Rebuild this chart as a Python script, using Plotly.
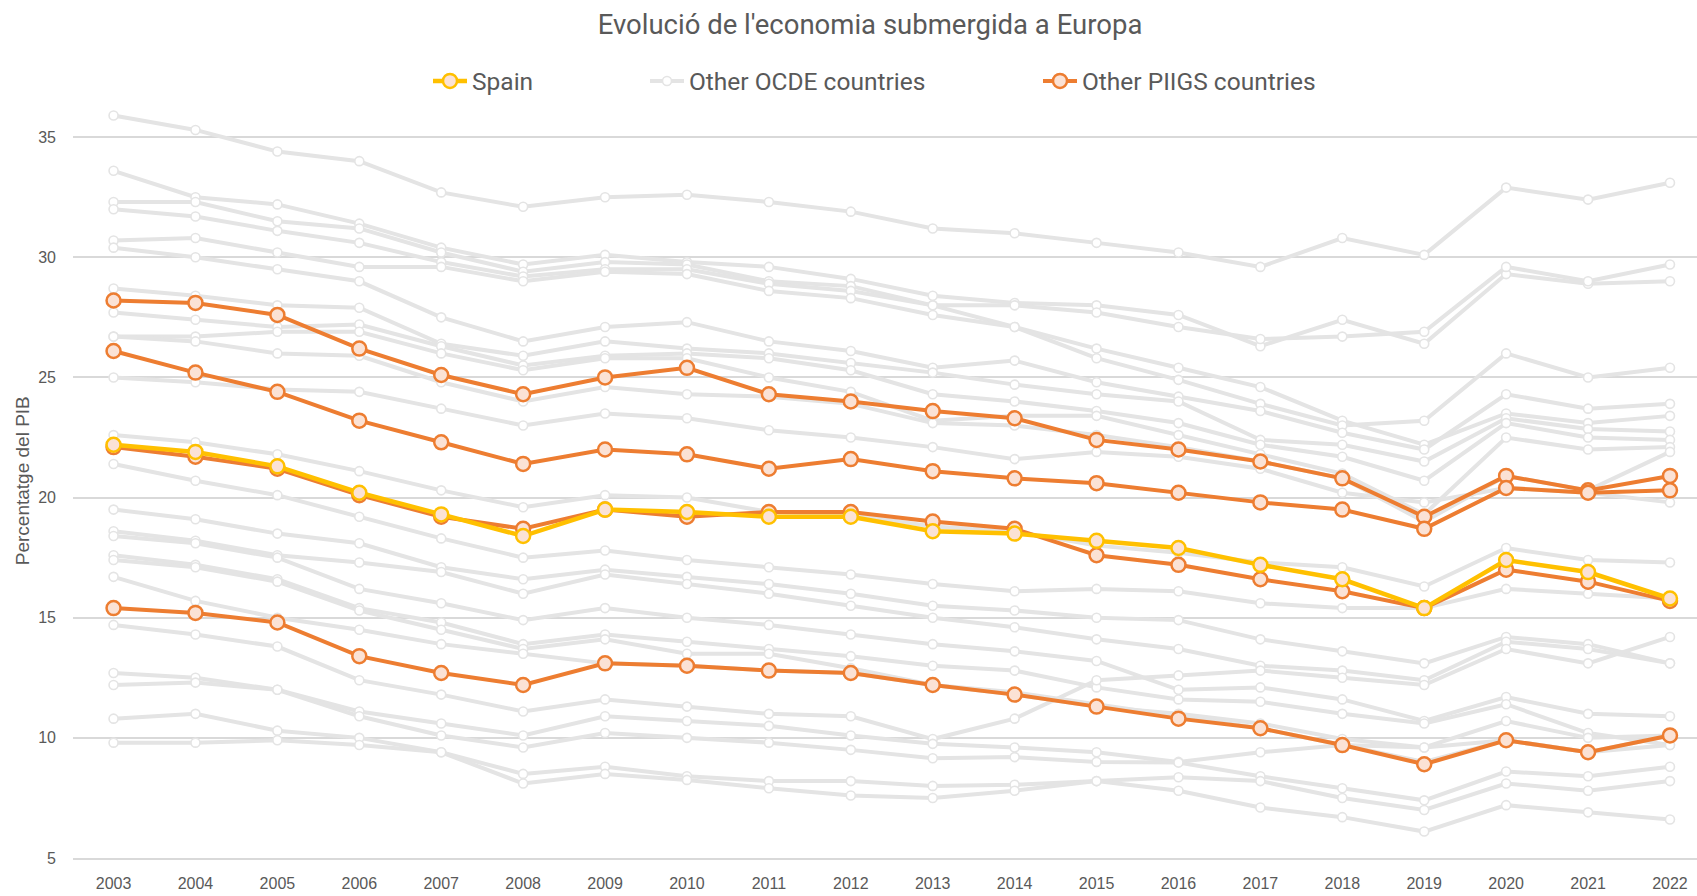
import plotly.graph_objects as go

years = list(range(2003, 2023))
tick_labels = [str(y) for y in years]
y_ticks = [5, 10, 15, 20, 25, 30, 35]

# Highlighted series
spain = [22.2, 21.9, 21.3, 20.2, 19.3, 18.4, 19.5, 19.4, 19.2, 19.2, 18.6, 18.5, 18.2, 17.9, 17.2, 16.6, 15.4, 17.4, 16.9, 15.8]
greece = [28.2, 28.1, 27.6, 26.2, 25.1, 24.3, 25.0, 25.4, 24.3, 24.0, 23.6, 23.3, 22.4, 22.0, 21.5, 20.8, 19.2, 20.9, 20.3, 20.9]
italy = [26.1, 25.2, 24.4, 23.2, 22.3, 21.4, 22.0, 21.8, 21.2, 21.6, 21.1, 20.8, 20.6, 20.2, 19.8, 19.5, 18.7, 20.4, 20.2, 20.3]
portugal = [22.1, 21.7, 21.2, 20.1, 19.2, 18.7, 19.5, 19.2, 19.4, 19.4, 19.0, 18.7, 17.6, 17.2, 16.6, 16.1, 15.4, 17.0, 16.5, 15.7]
ireland = [15.4, 15.2, 14.8, 13.4, 12.7, 12.2, 13.1, 13.0, 12.8, 12.7, 12.2, 11.8, 11.3, 10.8, 10.4, 9.7, 8.9, 9.9, 9.4, 10.1]

# Other OCDE countries (grey background lines)
oth_01 = [35.9, 35.3, 34.4, 34.0, 32.7, 32.1, 32.5, 32.6, 32.3, 31.9, 31.2, 31.0, 30.6, 30.2, 29.6, 30.8, 30.1, 32.9, 32.4, 33.1]
oth_02 = [33.6, 32.5, 32.2, 31.4, 30.4, 29.7, 30.1, 29.8, 29.6, 29.1, 28.4, 28.1, 28.0, 27.6, 26.3, 27.4, 26.4, 29.3, 28.9, 29.0]
oth_03 = [32.3, 32.3, 31.5, 31.2, 30.2, 29.4, 29.8, 29.7, 29.0, 28.8, 28.0, 28.0, 27.7, 27.1, 26.6, 26.7, 26.9, 29.6, 29.0, 29.7]
oth_04 = [32.0, 31.7, 31.1, 30.6, 29.8, 29.2, 29.5, 29.5, 28.9, 28.6, 28.0, 27.1, 26.2, 25.4, 24.6, 23.2, 22.2, 23.5, 23.1, 23.4]
oth_05 = [30.7, 30.8, 30.2, 29.6, 29.6, 29.0, 29.4, 29.3, 28.6, 28.3, 27.6, 27.1, 25.8, 24.9, 23.9, 23.0, 23.2, 26.0, 25.0, 25.4]
oth_06 = [30.4, 30.0, 29.5, 29.0, 27.5, 26.5, 27.1, 27.3, 26.5, 26.1, 25.4, 25.7, 24.8, 24.2, 23.6, 22.7, 22.0, 24.3, 23.7, 23.9]
oth_07 = [28.7, 28.4, 28.0, 27.9, 26.4, 25.9, 26.5, 26.2, 26.0, 25.6, 25.2, 24.7, 24.3, 24.0, 22.4, 22.2, 21.5, 23.3, 22.85, 22.75]
oth_08 = [27.7, 27.4, 27.1, 27.2, 26.3, 25.5, 25.9, 26.0, 25.8, 25.3, 24.3, 24.0, 23.6, 23.1, 22.2, 21.7, 20.7, 23.1, 22.5, 22.4]
oth_09 = [26.7, 26.7, 26.9, 26.9, 26.0, 25.3, 25.8, 25.8, 25.0, 24.4, 23.2, 23.4, 23.4, 22.6, 21.8, 21.0, 19.3, 22.5, 22.0, 22.1]
oth_10 = [26.7, 26.5, 26.0, 25.9, 24.8, 24.0, 24.6, 24.3, 24.2, 23.9, 23.1, 23.0, 22.6, 22.1, 21.5, 20.8, 19.0, 20.9, 20.3, 21.9]
oth_11 = [25.0, 24.8, 24.5, 24.4, 23.7, 23.0, 23.5, 23.3, 22.8, 22.5, 22.1, 21.6, 21.9, 21.7, 21.2, 20.2, 19.8, 20.4, 20.2, 19.8]
oth_12 = [22.6, 22.3, 21.8, 21.1, 20.3, 19.6, 20.1, 20.0, 19.4, 19.3, 18.8, 18.6, 18.0, 17.7, 17.3, 17.1, 16.3, 17.9, 17.4, 17.3]
oth_13 = [21.4, 20.7, 20.1, 19.2, 18.3, 17.5, 17.8, 17.4, 17.1, 16.8, 16.4, 16.1, 16.2, 16.1, 15.6, 15.4, 15.4, 16.2, 16.0, 15.8]
oth_14 = [19.5, 19.1, 18.5, 18.1, 17.1, 16.6, 17.0, 16.7, 16.4, 16.0, 15.5, 15.3, 15.0, 14.9, 14.1, 13.6, 13.1, 14.2, 13.9, 13.1]
oth_15 = [18.6, 18.2, 17.6, 17.3, 16.9, 16.0, 16.8, 16.4, 16.0, 15.5, 15.0, 14.6, 14.1, 13.7, 13.0, 12.8, 12.4, 14.0, 13.7, 13.1]
oth_16 = [18.4, 18.1, 17.5, 16.2, 15.6, 14.9, 15.4, 15.0, 14.7, 14.3, 13.9, 13.6, 13.2, 12.0, 12.1, 11.6, 10.7, 11.7, 11.0, 10.9]
oth_17 = [17.6, 17.2, 16.6, 15.4, 14.8, 13.9, 14.3, 14.0, 13.7, 13.4, 13.0, 12.8, 12.1, 11.6, 11.5, 11.0, 10.6, 11.4, 10.2, 9.7]
oth_18 = [17.4, 17.1, 16.5, 15.3, 14.5, 13.7, 14.1, 13.5, 13.5, 12.9, 12.2, 11.8, 11.3, 11.0, 10.6, 9.95, 9.6, 10.7, 10.0, 10.1]
oth_19 = [16.7, 15.7, 15.0, 14.5, 13.9, 13.5, 13.1, 13.0, 12.8, 12.7, 12.2, 11.9, 11.4, 10.9, 10.4, 9.7, 9.0, 9.9, 9.4, 10.1]
oth_20 = [14.7, 14.3, 13.8, 12.4, 11.8, 11.1, 11.6, 11.3, 11.0, 10.9, 9.95, 10.8, 12.4, 12.6, 12.8, 12.5, 12.2, 13.7, 13.1, 14.2]
oth_21 = [12.7, 12.5, 12.0, 11.1, 10.6, 10.1, 10.9, 10.7, 10.5, 10.1, 9.75, 9.6, 9.4, 9.0, 9.4, 9.7, 9.6, 9.9, 9.4, 9.7]
oth_22 = [12.2, 12.3, 12.0, 10.9, 10.1, 9.6, 10.2, 10.0, 9.8, 9.5, 9.15, 9.2, 9.0, 8.97, 8.4, 7.9, 7.4, 8.6, 8.4, 8.8]
oth_23 = [10.8, 11.0, 10.3, 10.0, 9.4, 8.5, 8.8, 8.4, 8.2, 8.2, 8.0, 8.05, 8.2, 8.36, 8.2, 7.5, 7.0, 8.1, 7.8, 8.2]
oth_24 = [9.8, 9.8, 9.9, 9.7, 9.4, 8.1, 8.5, 8.25, 7.9, 7.6, 7.5, 7.8, 8.2, 7.8, 7.1, 6.7, 6.1, 7.2, 6.9, 6.6]

others = [oth_01, oth_02, oth_03, oth_04, oth_05, oth_06, oth_07, oth_08, oth_09, oth_10, oth_11, oth_12,
          oth_13, oth_14, oth_15, oth_16, oth_17, oth_18, oth_19, oth_20, oth_21, oth_22, oth_23, oth_24]
piigs = [greece, italy, portugal, ireland]

GREY = "#E4E4E4"
ORANGE = "#ED7D31"
YELLOW = "#FFC000"
PEACH = "#FBE2D5"
TEXT = "#595959"
NARROW = "Roboto, Liberation Sans, sans-serif"
REG = "Liberation Sans, Arial, sans-serif"

fig = go.Figure()

for i, s in enumerate(others):
    fig.add_trace(go.Scatter(
        x=years, y=s, mode="lines+markers", name="Other OCDE countries",
        legend="legend2", legendgroup="ocde", showlegend=(i == 0),
        line=dict(color=GREY, width=4),
        marker=dict(symbol="circle", size=9, color="white", line=dict(color=GREY, width=1.6)),
        hoverinfo="skip",
    ))

for i, s in enumerate(piigs):
    fig.add_trace(go.Scatter(
        x=years, y=s, mode="lines+markers", name="Other PIIGS countries",
        legend="legend3", legendgroup="piigs", showlegend=(i == 0),
        line=dict(color=ORANGE, width=4),
        marker=dict(symbol="circle", size=14, color=PEACH, line=dict(color=ORANGE, width=2.5)),
    ))

fig.add_trace(go.Scatter(
    x=years, y=spain, mode="lines+markers", name="Spain", legend="legend",
    line=dict(color=YELLOW, width=4.5),
    marker=dict(symbol="circle", size=14, color=PEACH, line=dict(color=YELLOW, width=2.5)),
))

leg_common = dict(orientation="h", yref="container", y=1 - 81 / 896, yanchor="middle",
                  xref="container", xanchor="left", bgcolor="rgba(0,0,0,0)",
                  font=dict(family=NARROW, size=24.5, color=TEXT), itemsizing="trace",
                  itemwidth=34)

fig.update_layout(
    width=1697, height=896,
    margin=dict(l=73, r=0, t=101, b=38),
    paper_bgcolor="white", plot_bgcolor="white",
    title=dict(text="Evolució de l'economia submergida a Europa",
               font=dict(family=NARROW, size=27.5, color=TEXT),
               x=870 / 1697, xanchor="center", xref="container",
               y=1 - 24 / 896, yanchor="middle", yref="container"),
    legend=dict(x=428 / 1697, **leg_common),
    legend2=dict(x=645 / 1697, **leg_common),
    legend3=dict(x=1038 / 1697, **leg_common),
    xaxis=dict(range=[2002.505, 2022.33], tickmode="array", tickvals=years, ticktext=tick_labels,
               showgrid=False, zeroline=False, showline=True, linecolor="#D9D9D9", linewidth=1.5,
               ticks="", ticklabelstandoff=10,
               tickfont=dict(family=REG, size=16, color=TEXT)),
    yaxis=dict(range=[5, 36.4], tickmode="array", tickvals=y_ticks,
               showgrid=True, gridcolor="#D9D9D9", gridwidth=1.5, zeroline=False, showline=False,
               ticks="", ticklabelstandoff=16,
               tickfont=dict(family=REG, size=16, color=TEXT),
               title=dict(text="Percentatge del PIB", standoff=3,
                          font=dict(family=REG, size=19, color=TEXT))),
    showlegend=True,
)

fig.write_html("out.html", config={"displayModeBar": False},
               post_script="document.body.style.margin='0';")
